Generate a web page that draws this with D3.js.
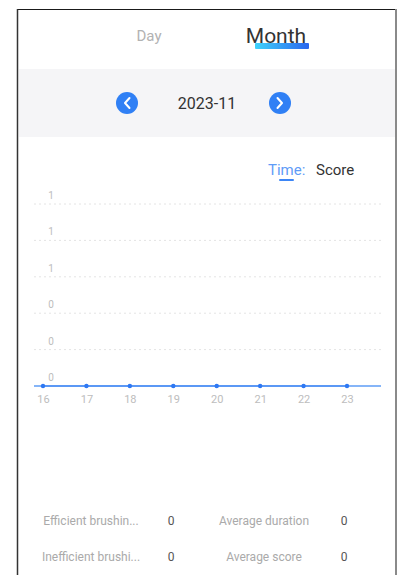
<!DOCTYPE html>
<html><head><meta charset="utf-8">
<script src="https://cdn.jsdelivr.net/npm/d3@7"></script>
<style>
html,body{margin:0;padding:0;background:#fff;}
svg{display:block;font-family:Roboto,"Noto Sans",sans-serif;}
</style></head>
<body>
<svg id="c" width="403" height="575"></svg>
<script>
const days = ["16","17","18","19","20","21","22","23"];
const scores = [0,0,0,0,0,0,0,0];
const yTicks = [0,0.2,0.4,0.6,0.8,1];
const tabs = ["Day","Month"];
const monthLabel = "2023-11";
const statLabels = [["Efficient brushin...","Average duration"],["Inefficient brushi...","Average score"]];
const statValues = [[0,0],[0,0]];

const svg = d3.select("#c");

// frame
svg.append("rect").attr("x",19).attr("y",10).attr("width",376).attr("height",565).attr("fill","#fff");
svg.append("rect").attr("x",19).attr("y",69).attr("width",376).attr("height",68).attr("fill","#f5f5f7");
svg.append("line").attr("x1",17).attr("x2",397).attr("y1",9.5).attr("y2",9.5).attr("stroke","#1a1a1a").attr("stroke-width",1.2);
svg.append("line").attr("x1",17.5).attr("x2",17.5).attr("y1",9).attr("y2",575).attr("stroke","#333").attr("stroke-width",1.5);
svg.append("line").attr("x1",396).attr("x2",396).attr("y1",9).attr("y2",575).attr("stroke","#8a8a8a").attr("stroke-width",2);

// tabs
const defs = svg.append("defs");
const g = defs.append("linearGradient").attr("id","ug");
g.append("stop").attr("offset","0%").attr("stop-color","#40d3fb");
g.append("stop").attr("offset","100%").attr("stop-color","#2a66ee");
svg.append("rect").attr("x",255).attr("y",43).attr("width",54).attr("height",6).attr("rx",1).attr("fill","url(#ug)");
svg.append("text").attr("x",149).attr("y",41).attr("text-anchor","middle").attr("font-size",15).attr("fill","#b2b2b2").text(tabs[0]);
svg.append("text").attr("x",276).attr("y",43).attr("text-anchor","middle").attr("font-size",21).attr("fill","#333").text(tabs[1]);

// nav
[[127,"M129.5,98 L125,103 L129.5,108"],[280,"M277.5,98 L282,103 L277.5,108"]].forEach(([cx,p])=>{
  svg.append("circle").attr("cx",cx).attr("cy",103).attr("r",11).attr("fill","#3080f5");
  svg.append("path").attr("d",p).attr("fill","none").attr("stroke","#fff").attr("stroke-width",2).attr("stroke-linecap","round").attr("stroke-linejoin","round");
});
svg.append("text").attr("x",207).attr("y",109).attr("text-anchor","middle").attr("font-size",16).attr("fill","#333").text(monthLabel);

// legend
svg.append("text").attr("x",268).attr("y",175).attr("font-size",15).attr("fill","#5f9cf7").text("Time:");
svg.append("rect").attr("x",279).attr("y",179).attr("width",15).attr("height",2).attr("rx",1).attr("fill","#3d86f6");
svg.append("text").attr("x",316).attr("y",175).attr("font-size",15).attr("fill","#333").text("Score");

// chart
const x = d3.scalePoint().domain(days).range([43,347]);
const y = d3.scaleLinear().domain([0,1]).range([386,204]);
const fmt = d3.format(".0f");

const grid = svg.append("g");
yTicks.filter(t=>t>0).forEach(t=>{
  grid.append("line").attr("x1",34).attr("x2",381).attr("y1",y(t)).attr("y2",y(t))
    .attr("stroke","#e4e4e4").attr("stroke-width",1).attr("stroke-dasharray","2,3");
});
yTicks.forEach(t=>{
  svg.append("text").attr("x",51).attr("y",y(t)-5).attr("text-anchor","middle").attr("font-size",10).attr("fill","#bdbdbd").text(fmt(t));
});

const xAxis = svg.append("g").attr("transform","translate(0,386)")
  .call(d3.axisBottom(x).tickSize(0).tickPadding(9));
xAxis.select(".domain").remove();
xAxis.selectAll("text").attr("font-size",11).attr("fill","#bdbdbd").attr("font-family","Roboto,sans-serif");
svg.append("line").attr("x1",34).attr("x2",381).attr("y1",386).attr("y2",386).attr("stroke","#5e9cf6").attr("stroke-width",1.5);

const line = d3.line().x((d,i)=>x(days[i])).y(d=>y(d));
svg.append("path").datum(scores).attr("d",line).attr("fill","none").attr("stroke","#4d8ff5").attr("stroke-width",1.5);
svg.selectAll("circle.pt").data(scores).enter().append("circle").attr("class","pt")
  .attr("cx",(d,i)=>x(days[i])).attr("cy",d=>y(d)).attr("r",2.2).attr("fill","#2e78f3");

// stats
const rowsY = [525,561];
statLabels.forEach((row,ri)=>{
  svg.append("text").attr("x",91).attr("y",rowsY[ri]).attr("text-anchor","middle").attr("font-size",12).attr("fill","#aaa").text(row[0]);
  svg.append("text").attr("x",171).attr("y",rowsY[ri]).attr("text-anchor","middle").attr("font-size",12).attr("fill","#555").text(statValues[ri][0]);
  svg.append("text").attr("x",264).attr("y",rowsY[ri]).attr("text-anchor","middle").attr("font-size",12).attr("fill","#aaa").text(row[1]);
  svg.append("text").attr("x",344).attr("y",rowsY[ri]).attr("text-anchor","middle").attr("font-size",12).attr("fill","#555").text(statValues[ri][1]);
});
</script>
</body></html>
